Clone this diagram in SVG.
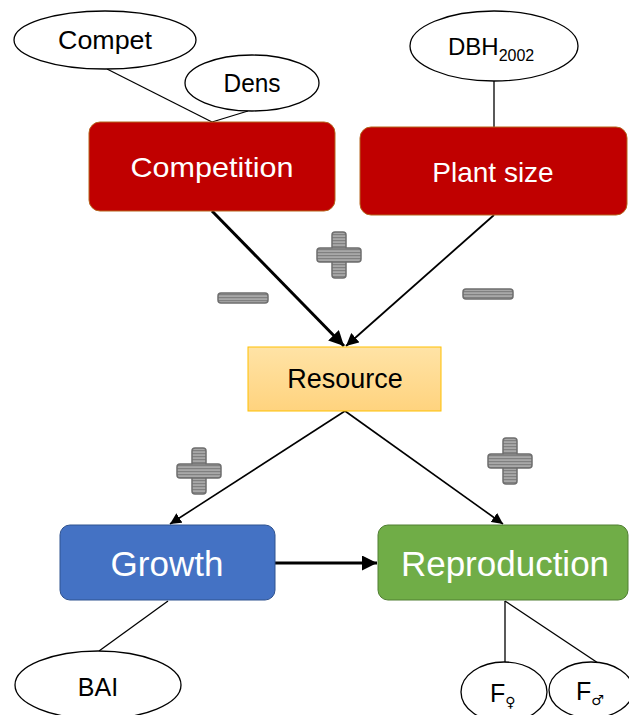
<svg xmlns="http://www.w3.org/2000/svg" width="629" height="715" viewBox="0 0 629 715">
<defs>
<style>
.ell{fill:#fff;stroke:#000;stroke-width:1.3}
.ln{stroke:#000;stroke-width:1.3;fill:none}
.arr{stroke:#000;fill:none}
.t{font-family:"Liberation Sans",Arial,sans-serif}
.w{fill:#fff}
.k{fill:#000}
.sign{fill:url(#stripes);stroke:#6e6e6e;stroke-width:1.5}
.fill{fill:url(#stripes);stroke:none}
</style>
<pattern id="stripes" patternUnits="userSpaceOnUse" width="4" height="3">
<rect width="4" height="3" fill="#a8a8a8"/>
<rect width="4" height="1.2" fill="#808080"/>
</pattern>
<linearGradient id="res" x1="0" y1="0" x2="0" y2="1">
<stop offset="0" stop-color="#FFE3A6"/>
<stop offset="1" stop-color="#FFD37E"/>
</linearGradient>
<marker id="ah" viewBox="0 0 10 10" refX="10" refY="5" markerWidth="5" markerHeight="5" markerUnits="strokeWidth" orient="auto">
<path d="M0,0 L10,5 L0,10 z" fill="#000"/>
</marker>
<marker id="ahs" viewBox="0 0 10 10" refX="10" refY="5" markerWidth="7" markerHeight="7" markerUnits="strokeWidth" orient="auto">
<path d="M0,0 L10,5 L0,10 z" fill="#000"/>
</marker>
<g id="plus">
<rect class="sign" x="-7" y="-23" width="14" height="46" rx="3"/>
<rect class="sign" x="-22" y="-7" width="44" height="14" rx="3"/>
<rect class="fill" x="-6.2" y="-6.2" width="12.4" height="12.4"/>
</g>
</defs>
<rect width="629" height="715" fill="#fff"/>

<g id="connectors">
<line class="ln" x1="107" y1="69" x2="212" y2="122"/>
<line class="ln" x1="248" y1="111" x2="212" y2="122"/>
<line class="ln" x1="494" y1="81" x2="494" y2="127"/>
<line class="arr" x1="212" y1="211" x2="344" y2="346" stroke-width="3" marker-end="url(#ah)"/>
<line class="arr" x1="494" y1="215" x2="346" y2="346" stroke-width="1.8" marker-end="url(#ahs)"/>
<line class="arr" x1="345" y1="411" x2="170" y2="524" stroke-width="1.6" marker-end="url(#ahs)"/>
<line class="arr" x1="345" y1="411" x2="503" y2="524" stroke-width="1.6" marker-end="url(#ahs)"/>
<line class="arr" x1="275" y1="563" x2="377" y2="563" stroke-width="3" marker-end="url(#ah)"/>
<line class="ln" x1="168" y1="601" x2="99" y2="651"/>
<line class="ln" x1="505" y1="601" x2="505" y2="662"/>
<line class="ln" x1="505" y1="601" x2="598" y2="663"/>
</g>

<g id="signs">
<use href="#plus" x="339" y="255"/>
<rect class="sign" x="218" y="293" width="50" height="10" rx="3"/>
<rect class="sign" x="463" y="289" width="50" height="10" rx="3"/>
<use href="#plus" x="199" y="471"/>
<use href="#plus" x="510" y="461"/>
</g>

<g id="compet">
<ellipse class="ell" cx="105" cy="40" rx="91" ry="29"/>
<text class="t k" x="105" y="49" font-size="25" text-anchor="middle" textLength="94" lengthAdjust="spacingAndGlyphs">Compet</text>
</g>
<g id="dens">
<ellipse class="ell" cx="252" cy="83" rx="67" ry="28"/>
<text class="t k" x="252" y="92" font-size="25" text-anchor="middle" textLength="57" lengthAdjust="spacingAndGlyphs">Dens</text>
</g>
<g id="dbh">
<ellipse class="ell" cx="494" cy="46" rx="84" ry="35"/>
<text class="t k" x="448" y="55" font-size="24">DBH<tspan font-size="16" dy="6">2002</tspan></text>
</g>

<g id="competition">
<rect x="89" y="122" width="246" height="89" rx="11" fill="#C00000" stroke="#B5651D" stroke-width="1"/>
<text class="t w" x="212" y="177" font-size="28" text-anchor="middle" textLength="163" lengthAdjust="spacingAndGlyphs">Competition</text>
</g>
<g id="plantsize">
<rect x="360" y="127" width="267" height="88" rx="11" fill="#C00000" stroke="#B5651D" stroke-width="1"/>
<text class="t w" x="493" y="182" font-size="28" text-anchor="middle">Plant size</text>
</g>

<g id="resource">
<rect x="248" y="347" width="193" height="64" fill="url(#res)" stroke="#FFC000" stroke-width="1"/>
<text class="t k" x="345" y="388" font-size="27" text-anchor="middle">Resource</text>
</g>

<g id="growth">
<rect x="60" y="525" width="215" height="75" rx="10" fill="#4472C4" stroke="#2F528F" stroke-width="1"/>
<text class="t w" x="167" y="576" font-size="35" text-anchor="middle">Growth</text>
</g>
<g id="reproduction">
<rect x="378" y="525" width="250" height="75" rx="10" fill="#70AD47" stroke="#507E32" stroke-width="1"/>
<text class="t w" x="505" y="576" font-size="35" text-anchor="middle">Reproduction</text>
</g>

<g id="bai">
<ellipse class="ell" cx="98" cy="685" rx="83" ry="34"/>
<text class="t k" x="98" y="696" font-size="25" text-anchor="middle">BAI</text>
</g>
<g id="ffemale">
<ellipse class="ell" cx="504" cy="692" rx="43" ry="30"/>
<text class="t k" x="490" y="702" font-size="25">F<tspan font-family="DejaVu Sans,sans-serif" font-size="14" dy="5">♀</tspan></text>
</g>
<g id="fmale">
<ellipse class="ell" cx="591" cy="690" rx="42" ry="28"/>
<text class="t k" x="576" y="700" font-size="25">F<tspan font-family="DejaVu Sans,sans-serif" font-size="14" dy="5">♂</tspan></text>
</g>
</svg>
